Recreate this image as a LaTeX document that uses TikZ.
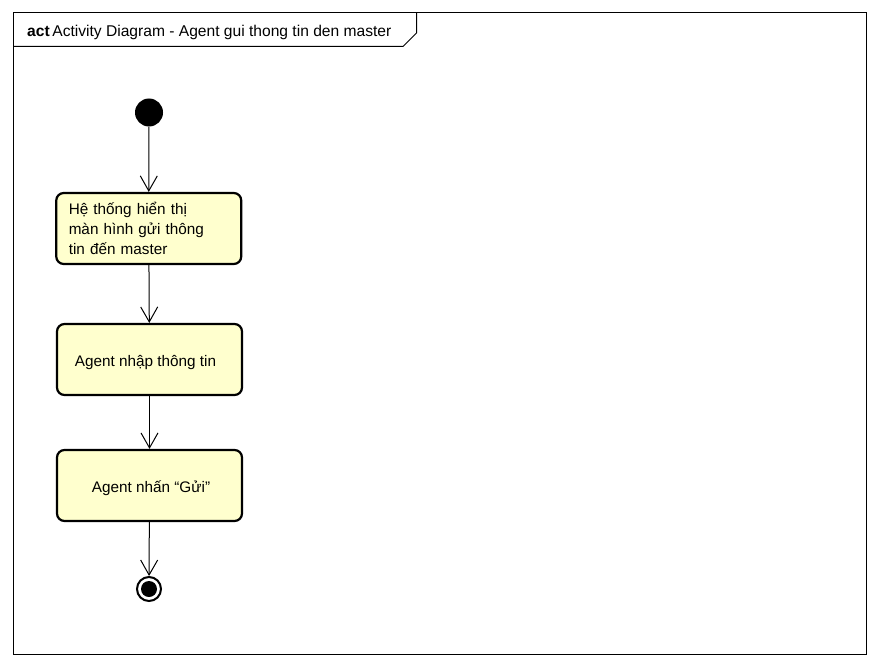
\documentclass[tikz,border=0pt]{standalone}
\usepackage{fontspec}
\setmainfont{Liberation Sans}
\usetikzlibrary{arrows.meta}
\definecolor{actfill}{RGB}{255,255,206}
\tikzset{
  actbox/.style={draw=black, line width=2.2pt, fill=actfill, rounded corners=7.5pt,
    minimum width=185pt, minimum height=71pt, font=\fontsize{15.3}{20}\selectfont},
  oneline/.style={text height=14pt, text depth=0pt},
  flow/.style={draw=black, line width=1pt, -{Straight Barb[length=15pt,width=17pt,line width=1pt]}},
  framebox/.style={draw=black, line width=1pt},
}
\begin{document}
\begin{tikzpicture}[x=1pt,y=-1pt]
  \useasboundingbox (0,0) rectangle (880,666);
  \fill[white] (0,0) rectangle (880,666);

  % diagram frame with its name tab
  \draw[framebox] (13,13) rectangle (866,654);
  \draw[framebox] (13,46.5) -- (403,46.5) -- (416.5,33) -- (416.5,13);
  \node[anchor=base west, inner sep=0pt, font=\fontsize{15.6}{18}\selectfont] (title) at (27,36.5)
    {\textbf{act}\,Activity Diagram - Agent gui thong tin den master};

  % initial node
  \node[circle, fill=black, minimum size=28pt, inner sep=0pt] (start) at (149,112.5) {};

  % actions
  \node[actbox, align=left, text width=160pt, inner xsep=12.5pt] (show) at (148.75,228.5)
    {Hệ thống hiển thị\\màn hình gửi thông\\tin đến master};
  \node[actbox, oneline] (input) at (149.5,359.5) {\hspace*{-8pt}Agent nhập thông tin};
  \node[actbox, oneline] (send) at (149.5,485.5) {\hspace*{3pt}Agent nhấn “Gửi”};

  % final node
  \node[circle, draw=black, line width=2pt, fill=white, minimum size=24pt, inner sep=0pt] (final) at (149,589) {};
  \fill[black] (final.center) circle (8pt);

  % control flows
  \draw[flow] (start) -- (show.north);
  \draw[flow] (show) -- (input);
  \draw[flow] (input) -- (send);
  \draw[flow] (send) -- (final);
\end{tikzpicture}
\end{document}
